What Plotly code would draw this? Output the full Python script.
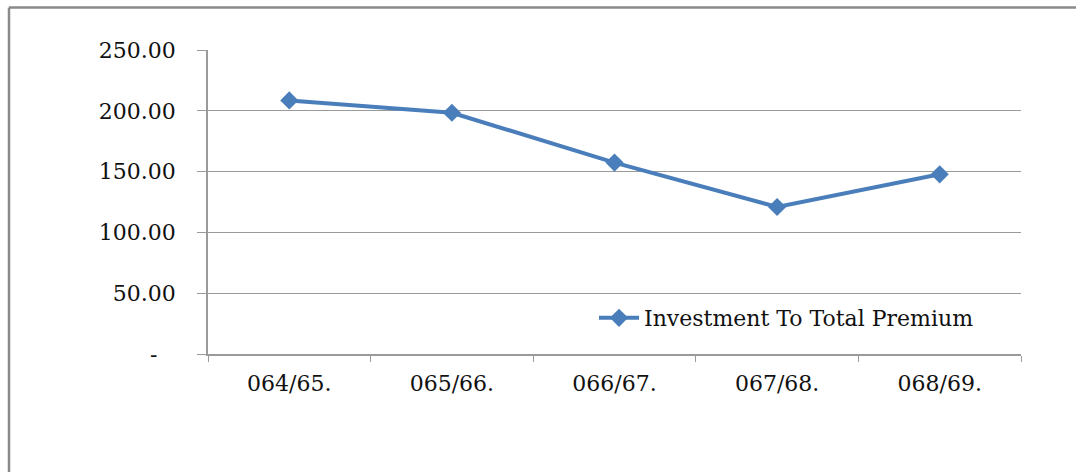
import plotly.graph_objects as go

categories = ["064/65.", "065/66.", "066/67.", "067/68.", "068/69."]
values = [208.5, 198.4, 157.4, 120.9, 147.8]
series_name = "Investment To Total Premium"
y_tickvals = [0, 50, 100, 150, 200, 250]
y_ticktext = ["-\u00a0\u00a0\u2009", "50.00", "100.00", "150.00", "200.00", "250.00"]

W, H = 1076, 472
L, R, T, B = 208, 55, 49.5, 118
pw, ph = W - L - R, H - T - B

FONT = "DejaVu Serif"
GRAY = "#9a9a9a"
BLUE = "#4a7ebb"
FS = 22

fig = go.Figure()
fig.add_trace(go.Scatter(
    x=categories, y=values, name=series_name, mode="lines+markers",
    line=dict(color=BLUE, width=4),
    marker=dict(symbol="diamond", size=14, color=BLUE),
))

def px_x(x):
    return (x - L) / pw

def px_y(y):
    return (H - B - y) / ph

fig.update_layout(
    width=W, height=H,
    margin=dict(l=L, r=R, t=T, b=B),
    paper_bgcolor="white", plot_bgcolor="white",
    font=dict(family=FONT, size=FS, color="#111111"),
    showlegend=True,
    legend=dict(x=px_x(594), y=px_y(318), xanchor="left", yanchor="middle",
                bgcolor="rgba(0,0,0,0)", font=dict(family=FONT, size=FS, color="#111111"),
                itemwidth=40),
    xaxis=dict(
        type="category", range=[-0.5, len(categories) - 0.5],
        showline=True, linecolor=GRAY, linewidth=1.5,
        ticks="outside", ticklen=6, tickcolor=GRAY, tickson="boundaries",
        showgrid=False, ticklabelstandoff=9,
        tickfont=dict(family=FONT, size=FS),
    ),
    yaxis=dict(
        range=[0, 250], tickvals=y_tickvals, ticktext=y_ticktext,
        showline=True, linecolor=GRAY, linewidth=1.5,
        ticks="outside", ticklen=9, tickcolor=GRAY,
        showgrid=True, gridcolor=GRAY, gridwidth=1.2,
        zeroline=False, ticklabelstandoff=17,
        tickfont=dict(family=FONT, size=FS),
    ),
    shapes=[
        dict(type="line", xref="paper", yref="paper",
             x0=px_x(9), x1=px_x(W + 5), y0=px_y(7), y1=px_y(7),
             line=dict(color="#8a8a8a", width=2.5)),
        dict(type="line", xref="paper", yref="paper",
             x0=px_x(9), x1=px_x(9), y0=px_y(7), y1=px_y(H + 5),
             line=dict(color="#8a8a8a", width=2.5)),
    ],
)

fig.write_html("out.html", config={"displayModeBar": False},
               post_script="document.body.style.margin='0';document.body.style.overflow='hidden';")
